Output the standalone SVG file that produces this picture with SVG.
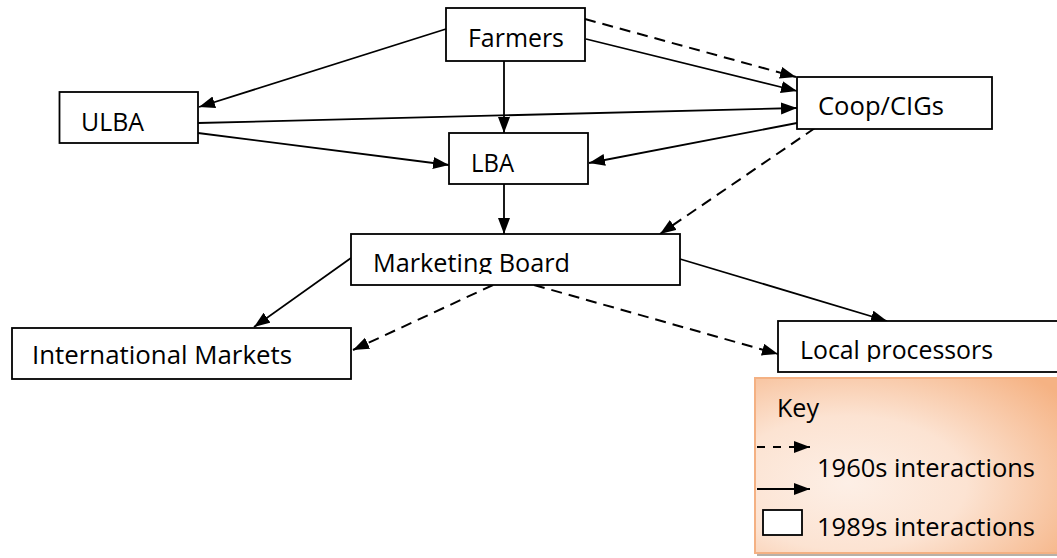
<svg xmlns="http://www.w3.org/2000/svg" width="1057" height="558" viewBox="0 0 1057 558">
  <style>
    .box { fill: #ffffff; stroke: #000000; stroke-width: 1.8; }
    .lbl { font-family: "Open Sans", "Liberation Sans", sans-serif; font-size: 25.5px; fill: #000000; }
    .edge { fill: none; stroke: #000000; stroke-width: 1.8; marker-end: url(#head); }
    .dash { stroke-dasharray: 11 7; stroke-width: 2; }
  </style>
  <defs>
    <marker id="head" markerUnits="userSpaceOnUse" markerWidth="17" markerHeight="13" refX="16" refY="6" orient="auto">
      <path d="M0,0 L16,6 L0,12 z" fill="#000000"/>
    </marker>
    <radialGradient id="keyFill" cx="0.3" cy="0.6" r="0.85">
      <stop offset="0" stop-color="#fdefe6"/>
      <stop offset="0.45" stop-color="#fce3d2"/>
      <stop offset="1" stop-color="#f5b283"/>
    </radialGradient>
    <clipPath id="clipBoard"><rect x="340" y="230" width="350" height="44"/></clipPath>
    <clipPath id="clipLocal"><rect x="770" y="318" width="287" height="44"/></clipPath>
  </defs>

  <!-- connectors -->
  <g id="connectors">
    <line class="edge" x1="446" y1="29" x2="199" y2="107"/>
    <line class="edge" x1="504" y1="61" x2="504" y2="133"/>
    <line class="edge dash" x1="585" y1="19" x2="796" y2="77"/>
    <line class="edge" x1="586" y1="39" x2="797" y2="91"/>
    <line class="edge" x1="198" y1="123" x2="797" y2="108"/>
    <line class="edge" x1="198" y1="133" x2="449" y2="165"/>
    <line class="edge" x1="797" y1="123" x2="589" y2="163"/>
    <line class="edge dash" x1="815" y1="128" x2="660" y2="234"/>
    <line class="edge" x1="504" y1="184" x2="504" y2="234"/>
    <line class="edge" x1="351" y1="258" x2="254" y2="327"/>
    <line class="edge dash" x1="493" y1="285" x2="353" y2="350"/>
    <line class="edge" x1="680" y1="259" x2="887" y2="321"/>
    <line class="edge dash" x1="534" y1="285" x2="778" y2="354"/>
  </g>

  <!-- nodes -->
  <g id="farmers">
    <rect class="box" x="446" y="8" width="139" height="53"/>
    <text class="lbl" x="468" y="47" textLength="96" lengthAdjust="spacingAndGlyphs">Farmers</text>
  </g>
  <g id="ulba">
    <rect class="box" x="59.5" y="92" width="138.5" height="51"/>
    <text class="lbl" x="81" y="131" textLength="63" lengthAdjust="spacingAndGlyphs">ULBA</text>
  </g>
  <g id="lba">
    <rect class="box" x="449" y="133" width="139" height="51"/>
    <text class="lbl" x="471" y="172" textLength="43" lengthAdjust="spacingAndGlyphs">LBA</text>
  </g>
  <g id="coop">
    <rect class="box" x="797" y="77" width="195" height="52"/>
    <text class="lbl" x="818" y="115" textLength="126" lengthAdjust="spacingAndGlyphs">Coop/CIGs</text>
  </g>
  <g id="marketing-board">
    <rect class="box" x="351" y="234" width="329" height="51"/>
    <text class="lbl" x="373" y="272" textLength="197" lengthAdjust="spacingAndGlyphs" clip-path="url(#clipBoard)">Marketing Board</text>
  </g>
  <g id="international-markets">
    <rect class="box" x="12" y="328" width="339" height="51"/>
    <text class="lbl" x="32" y="364" textLength="260" lengthAdjust="spacingAndGlyphs">International Markets</text>
  </g>
  <g id="local-processors">
    <rect class="box" x="778" y="321" width="282" height="51"/>
    <text class="lbl" x="800" y="359" textLength="193" lengthAdjust="spacingAndGlyphs" clip-path="url(#clipLocal)">Local processors</text>
  </g>

  <!-- legend -->
  <g id="key">
    <rect x="757" y="381" width="310" height="175" fill="#b8b0a8"/>
    <rect x="755" y="378" width="310" height="175" fill="url(#keyFill)" stroke="#f4b183" stroke-width="2"/>
    <text class="lbl" x="777" y="417" textLength="42" lengthAdjust="spacingAndGlyphs">Key</text>
    <line class="edge dash" x1="757" y1="447" x2="810" y2="447" style="stroke-dasharray: 8 8"/>
    <text class="lbl" x="817" y="477" textLength="218" lengthAdjust="spacingAndGlyphs">1960s interactions</text>
    <line class="edge" x1="757" y1="489" x2="810" y2="489"/>
    <rect class="box" x="763" y="510" width="39" height="25"/>
    <text class="lbl" x="817" y="536" textLength="218" lengthAdjust="spacingAndGlyphs">1989s interactions</text>
  </g>
</svg>
